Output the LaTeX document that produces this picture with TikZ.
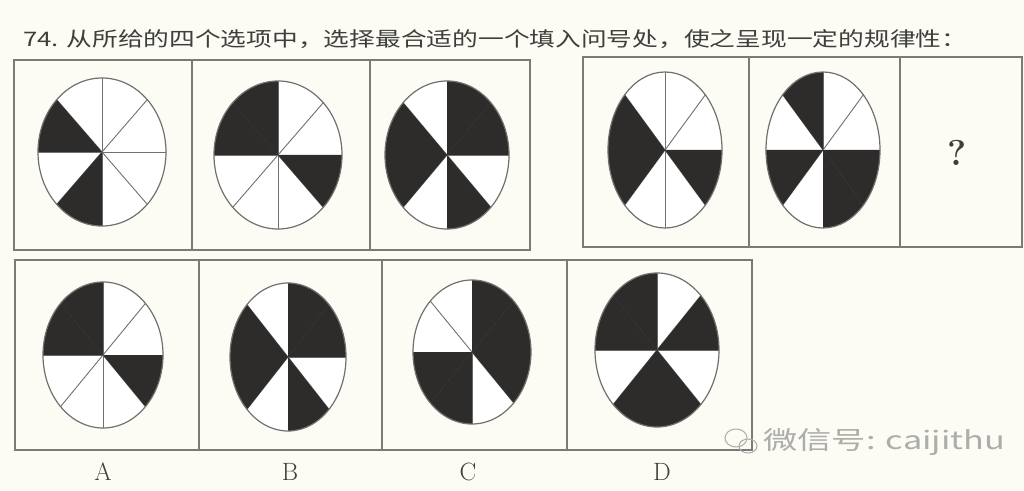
\documentclass[tikz,border=0pt]{standalone}
\usepackage{fontspec}
\usepackage{graphicx}
\newfontfamily\cjk{Noto Sans CJK SC}
\definecolor{paper}{HTML}{FCFBF4}
\definecolor{frame}{HTML}{7A7A78}
\definecolor{blk}{HTML}{2E2C2A}
\definecolor{edge}{HTML}{707070}
\definecolor{titlec}{HTML}{3E3E3C}
\definecolor{wm}{HTML}{ADADAB}
\tikzset{
  boxline/.style={draw=frame, line width=1.6pt},
  radline/.style={draw=edge, line width=0.9pt},
  ellline/.style={draw=edge, line width=1.2pt},
  blkfill/.style={fill=blk},
  optlabel/.style={font=\fontsize{25}{25}\selectfont, text=titlec},
}
\newcommand{\myellfig}[5]{%
  \begin{scope}[shift={(#1,#2)}]
    \fill[white] (0,0) ellipse[x radius=#3pt, y radius=#4pt];
    \foreach \k in {0,...,7}
      \draw[radline] (0,0) -- ({#3*cos(45*\k)},{#4*sin(45*\k)});
    \foreach \k in {#5}
      \fill[blkfill] (0,0) -- ({#3*cos(45*\k)},{#4*sin(45*\k)})
        arc[start angle=45*\k, end angle=45*\k+45, x radius=#3pt, y radius=#4pt] -- cycle;
    \draw[ellline] (0,0) ellipse[x radius=#3pt, y radius=#4pt];
  \end{scope}}
\begin{document}
\begin{tikzpicture}[x=1pt,y=1pt]
\fill[paper] (0,0) rectangle (1024,490);
\useasboundingbox (0,0) rectangle (1024,490);
% title
\node[anchor=west, text=titlec, inner sep=0] (title) at (23,451)
  {\resizebox{944pt}{\height}{\fontsize{20}{20}\selectfont\cjk 74. 从所给的四个选项中，选择最合适的一个填入问号处，使之呈现一定的规律性：}};
% top-left frames
\draw[boxline] (14,240) rectangle (192,430);
\draw[boxline] (192,240) rectangle (370,430);
\draw[boxline] (370,240) rectangle (530,430);
% top-right frames
\draw[boxline] (583,243) rectangle (749,433);
\draw[boxline] (749,243) rectangle (900,433);
\draw[boxline] (900,243) rectangle (1022,433);
% bottom frames
\draw[boxline] (15,40) rectangle (199,230);
\draw[boxline] (199,40) rectangle (382,230);
\draw[boxline] (382,40) rectangle (567,230);
\draw[boxline] (567,40) rectangle (752,230);
% sequence figures
\myellfig{102}{338}{64}{74}{3,5}
\myellfig{278}{335}{64}{74}{2,3,7}
\myellfig{447}{335}{62}{74}{0,1,3,4,6}
\myellfig{665}{340}{57}{78}{3,4,7}
\myellfig{823}{340}{57}{78}{2,4,6,7}
\node[font=\bfseries\fontsize{36}{36}\selectfont, text=titlec] (q) at (957,337) {?};
% options
\myellfig{103}{135}{60}{73}{2,3,7}
\myellfig{288}{133}{58}{74}{0,1,3,4,6}
\myellfig{472}{138}{59}{72}{0,1,4,5,7}
\myellfig{657}{140}{62}{77}{0,2,3,5,6}
\node[optlabel] (la) at (103,18) {A};
\node[optlabel] (lb) at (290,18) {B};
\node[optlabel] (lc) at (468,18) {C};
\node[optlabel] (ld) at (662,18) {D};
% watermark
\draw[wm, line width=1pt] (736,52) ellipse[x radius=11pt, y radius=9pt];
\draw[wm, line width=1pt] (748,44) ellipse[x radius=9pt, y radius=7pt];
\node[anchor=west, text=wm, inner sep=0] (wmark) at (763,48)
  {\resizebox{242pt}{\height}{\fontsize{25}{25}\selectfont\cjk 微信号: caijithu}};
\end{tikzpicture}
\end{document}
